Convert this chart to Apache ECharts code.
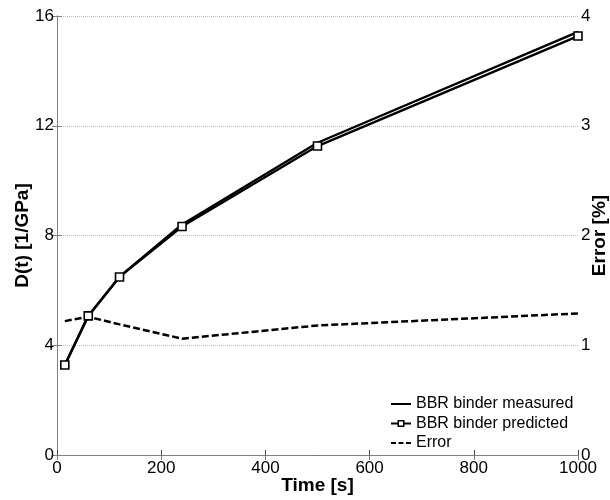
<!DOCTYPE html>
<html>
<head>
<meta charset="utf-8">
<script src="https://cdn.jsdelivr.net/npm/echarts@6/dist/echarts.min.js"></script>
<style>html,body{margin:0;padding:0;background:#fff}#c{width:610px;height:500px}</style>
</head>
<body>
<div id="c"></div>
<script>
const times = [15, 60, 120, 240, 500, 1000];
const measured = [3.28, 5.07, 6.50, 8.40, 11.38, 15.42];
const predicted = [3.28, 5.07, 6.49, 8.33, 11.26, 15.27];
const errorPct = [1.22, 1.26, 1.19, 1.06, 1.18, 1.29];
const xTicks = [0, 200, 400, 600, 800, 1000];
const yLeftTicks = [0, 4, 8, 12, 16];
const yRightTicks = [0, 1, 2, 3, 4];

const pair = (xs, ys) => xs.map((x, i) => [x, ys[i]]);
const FONT = 'Arial, "Liberation Sans", sans-serif';
const grey = '#808080';
const plain = v => String(v);
const solidIcon = 'path://M0,0h20v2h-20z';
const dashIcon = 'path://M0,0h5v2h-5zM7.5,0h5v2h-5zM15,0h5v2h-5z';
const markIcon = 'path://M0,6H6.5V3.5H13.5V6H20V8H13.5V10.5H6.5V8H0Z M8,5V9H12V5Z';

const chart = echarts.init(document.getElementById('c'), null, {renderer: 'canvas'});
chart.setOption({
  animation: false,
  backgroundColor: '#fff',
  textStyle: {fontFamily: FONT},
  grid: {left: 57, right: 32, top: 16, bottom: 45, containLabel: false, outerBoundsMode: 'none'},
  legend: {
    orient: 'vertical', left: 391, top: 396, padding: 0,
    itemWidth: 20, itemHeight: 14, itemGap: 3.5,
    textStyle: {fontSize: 16, color: '#000', fontFamily: FONT},
    data: [
      {name: 'BBR binder measured', icon: solidIcon, itemStyle: {color: '#000', borderWidth: 0}},
      {name: 'BBR binder predicted', icon: markIcon, itemStyle: {color: '#000', borderWidth: 0}},
      {name: 'Error', icon: dashIcon, itemStyle: {color: '#000', borderWidth: 0}}
    ]
  },
  xAxis: [{
    type: 'value', position: 'bottom',
    min: xTicks[0], max: xTicks[xTicks.length - 1], interval: 200,
    name: 'Time [s]', nameLocation: 'middle', nameGap: 21, nameMoveOverlap: false,
    nameTextStyle: {fontSize: 19, fontWeight: 'bold', color: '#000', fontFamily: FONT},
    axisLine: {show: true, lineStyle: {color: '#404040', width: 1}},
    axisTick: {show: true, inside: true, length: 5, lineStyle: {color: '#404040'}},
    axisLabel: {fontSize: 17, color: '#000', margin: 5, fontFamily: FONT, formatter: plain},
    splitLine: {show: false}
  }, {
    type: 'value', position: 'top',
    min: xTicks[0], max: xTicks[xTicks.length - 1], interval: 200,
    axisLine: {show: true, lineStyle: {color: grey, width: 1}},
    axisTick: {show: true, inside: true, length: 5, lineStyle: {color: grey}},
    axisLabel: {show: false},
    splitLine: {show: false}
  }],
  yAxis: [{
    type: 'value', position: 'left',
    min: yLeftTicks[0], max: yLeftTicks[yLeftTicks.length - 1], interval: 4,
    name: 'D(t) [1/GPa]', nameLocation: 'middle', nameGap: 25, nameRotate: 90, nameMoveOverlap: false,
    nameTextStyle: {fontSize: 19, fontWeight: 'bold', color: '#000', fontFamily: FONT},
    axisLine: {show: true, lineStyle: {color: grey, width: 1}},
    axisTick: {show: true, inside: true, length: 5, lineStyle: {color: grey}},
    axisLabel: {fontSize: 17, color: '#000', margin: 3, fontFamily: FONT, formatter: plain},
    splitLine: {show: true, lineStyle: {type: 'dotted', color: '#bdbdbd', width: 1}}
  }, {
    type: 'value', position: 'right',
    min: yRightTicks[0], max: yRightTicks[yRightTicks.length - 1], interval: 1,
    name: 'Error [%]', nameLocation: 'middle', nameGap: 12, nameRotate: 90, nameMoveOverlap: false,
    nameTextStyle: {fontSize: 19, fontWeight: 'bold', color: '#000', fontFamily: FONT},
    axisLine: {show: true, lineStyle: {color: grey, width: 1}},
    axisTick: {show: true, inside: true, length: 5, lineStyle: {color: grey}},
    axisLabel: {fontSize: 17, color: '#000', margin: 3, fontFamily: FONT, formatter: plain},
    splitLine: {show: false}
  }],
  series: [{
    name: 'BBR binder measured', type: 'line', xAxisIndex: 0, yAxisIndex: 0,
    data: pair(times, measured), symbol: 'none',
    lineStyle: {color: '#000', width: 2.4}, itemStyle: {color: '#000'}, z: 2
  }, {
    name: 'BBR binder predicted', type: 'line', xAxisIndex: 0, yAxisIndex: 0,
    data: pair(times, predicted), symbol: 'rect', symbolSize: 8,
    lineStyle: {color: '#000', width: 2.4},
    itemStyle: {color: '#fff', borderColor: '#000', borderWidth: 1.6}, z: 3
  }, {
    name: 'Error', type: 'line', xAxisIndex: 0, yAxisIndex: 1,
    data: pair(times, errorPct), symbol: 'none',
    lineStyle: {color: '#000', width: 2.5, type: [7, 3]}, itemStyle: {color: '#000'}, z: 2
  }]
});
</script>
</body>
</html>
